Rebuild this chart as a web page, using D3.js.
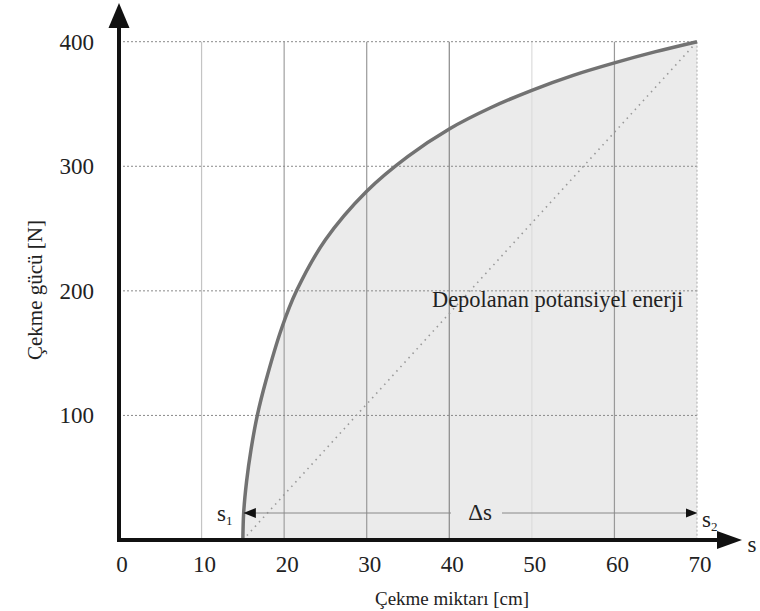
<!DOCTYPE html>
<html lang="tr">
<head>
<meta charset="UTF-8">
<title>Çekme gücü</title>
<style>
    body { margin: 0; background: #fff; }
    svg text { fill: #222; }
</style>
</head>
<body>
<svg id="chart" width="760" height="611" font-family="'Liberation Serif', 'Times New Roman', Tinos, 'DejaVu Serif', serif"></svg>
<script src="https://d3js.org/d3.v7.min.js"></script>
<script>
    // eksen değerleri
    const xTicks = [0, 10, 20, 30, 40, 50, 60, 70];
    const yTicks = [100, 200, 300, 400];

    // eğri: çekme miktarı [cm] ve çekme gücü [N]
    const curveS = [15, 15.1, 15.45, 16, 16.75, 17.8, 19.7, 21.5, 25, 30, 35, 40, 45, 50, 55, 60, 65, 70];
    const curveF = [0, 22, 47, 73, 100, 128, 170, 200, 241, 280, 308, 330, 347, 361, 373, 383, 392, 400];

    const s1 = 15, s2 = 70;

    const svg = d3.select('#chart');
    const x = d3.scaleLinear().domain([0, 70]).range([119, 697]);
    const y = d3.scaleLinear().domain([0, 400]).range([540, 41.7]);

    const pts = curveS.map((s, i) => [s, curveF[i]]);
    const smooth = d3.curveCatmullRom.alpha(0.5);

    // dolgu
    svg.append('path')
        .datum(pts)
        .attr('fill', '#ebebeb')
        .attr('d', d3.area().x(d => x(d[0])).y0(y(0)).y1(d => y(d[1])).curve(smooth));

    // dikey ızgara
    const gridColor = { 10: '#c4c4c4', 20: '#a0a0a0', 30: '#999', 40: '#888', 50: '#dcdcdc', 60: '#999' };
    svg.selectAll('.vgrid')
        .data(xTicks.filter(d => d > 0 && d < 70))
        .enter().append('line')
        .attr('class', 'vgrid')
        .attr('x1', d => x(d)).attr('x2', d => x(d))
        .attr('y1', y(400)).attr('y2', y(0))
        .attr('stroke', d => gridColor[d])
        .attr('stroke-width', 1.2);

    // yatay noktalı ızgara
    svg.selectAll('.hgrid')
        .data(yTicks)
        .enter().append('line')
        .attr('class', 'hgrid')
        .attr('x1', x(0)).attr('x2', x(70))
        .attr('y1', d => y(d)).attr('y2', d => y(d))
        .attr('stroke', '#8a8a8a')
        .attr('stroke-width', 1)
        .attr('stroke-dasharray', '2,2');

    svg.append('line')
        .attr('x1', x(70)).attr('x2', x(70))
        .attr('y1', y(400)).attr('y2', y(0))
        .attr('stroke', '#aaa')
        .attr('stroke-width', 1)
        .attr('stroke-dasharray', '2,2');

    // köşegen
    svg.append('line')
        .attr('x1', x(s1)).attr('y1', y(0))
        .attr('x2', x(s2)).attr('y2', y(400))
        .attr('stroke', '#999')
        .attr('stroke-width', 1.6)
        .attr('stroke-dasharray', '1.5,4.5');

    // eğri
    svg.append('path')
        .datum(pts)
        .attr('fill', 'none')
        .attr('stroke', '#727272')
        .attr('stroke-width', 3.5)
        .attr('d', d3.line().x(d => x(d[0])).y(d => y(d[1])).curve(smooth));

    // Δs oku
    const ay = 513;
    svg.append('line')
        .attr('x1', x(s1) + 6).attr('x2', 451).attr('y1', ay).attr('y2', ay)
        .attr('stroke', '#888').attr('stroke-width', 1);
    svg.append('line')
        .attr('x1', 502).attr('x2', x(s2) - 6).attr('y1', ay).attr('y2', ay)
        .attr('stroke', '#888').attr('stroke-width', 1);
    svg.append('path')
        .attr('d', `M${x(s1) + 0.5},${ay} L${x(s1) + 13},${ay - 5} L${x(s1) + 13},${ay + 5} Z`)
        .attr('fill', '#111');
    svg.append('path')
        .attr('d', `M${x(s2) + 0.5},${ay} L${x(s2) - 11},${ay - 4.5} L${x(s2) - 11},${ay + 4.5} Z`)
        .attr('fill', '#111');
    svg.append('text')
        .attr('x', 480).attr('y', ay + 7)
        .attr('text-anchor', 'middle')
        .attr('font-size', 23)
        .text('Δs');

    // s1, s2
    const t1 = svg.append('text').attr('x', 217).attr('y', 521).attr('font-size', 23);
    t1.append('tspan').text('s');
    t1.append('tspan').attr('font-size', 13).attr('dy', 4).text('1');
    const t2 = svg.append('text').attr('x', 702).attr('y', 527).attr('font-size', 23);
    t2.append('tspan').text('s');
    t2.append('tspan').attr('font-size', 13).attr('dy', 4).text('2');

    svg.append('text')
        .attr('x', 432).attr('y', 307)
        .attr('font-size', 22.4)
        .text('Depolanan potansiyel enerji');

    // eksenler
    svg.append('line')
        .attr('x1', x(0)).attr('x2', x(0))
        .attr('y1', y(0) + 2).attr('y2', 20)
        .attr('stroke', '#111').attr('stroke-width', 4);
    svg.append('path')
        .attr('d', `M${x(0)},3 L${x(0) + 10.5},28 L${x(0) - 10.5},28 Z`)
        .attr('fill', '#111');
    svg.append('line')
        .attr('x1', x(0) - 2).attr('x2', 725)
        .attr('y1', y(0)).attr('y2', y(0))
        .attr('stroke', '#111').attr('stroke-width', 4);
    svg.append('path')
        .attr('d', `M742,${y(0)} L717,${y(0) - 9} L717,${y(0) + 9} Z`)
        .attr('fill', '#111');

    // işaret etiketleri
    svg.selectAll('.xlab')
        .data(xTicks)
        .enter().append('text')
        .attr('class', 'xlab')
        .attr('x', d => x(d) + 3)
        .attr('y', 572)
        .attr('text-anchor', 'middle')
        .attr('font-size', 23)
        .text(d => d);

    svg.selectAll('.ylab')
        .data(yTicks)
        .enter().append('text')
        .attr('class', 'ylab')
        .attr('x', 94)
        .attr('y', d => y(d) + 8)
        .attr('text-anchor', 'end')
        .attr('font-size', 23)
        .text(d => d);

    svg.append('text')
        .attr('x', 752).attr('y', 552)
        .attr('text-anchor', 'middle')
        .attr('font-size', 23)
        .text('s');

    // eksen başlıkları
    svg.append('text')
        .attr('x', 452).attr('y', 605)
        .attr('text-anchor', 'middle')
        .attr('font-size', 19)
        .text('Çekme miktarı [cm]');

    svg.append('text')
        .attr('transform', 'translate(42,290) rotate(-90)')
        .attr('text-anchor', 'middle')
        .attr('font-size', 21)
        .text('Çekme gücü [N]');
</script>
</body>
</html>
